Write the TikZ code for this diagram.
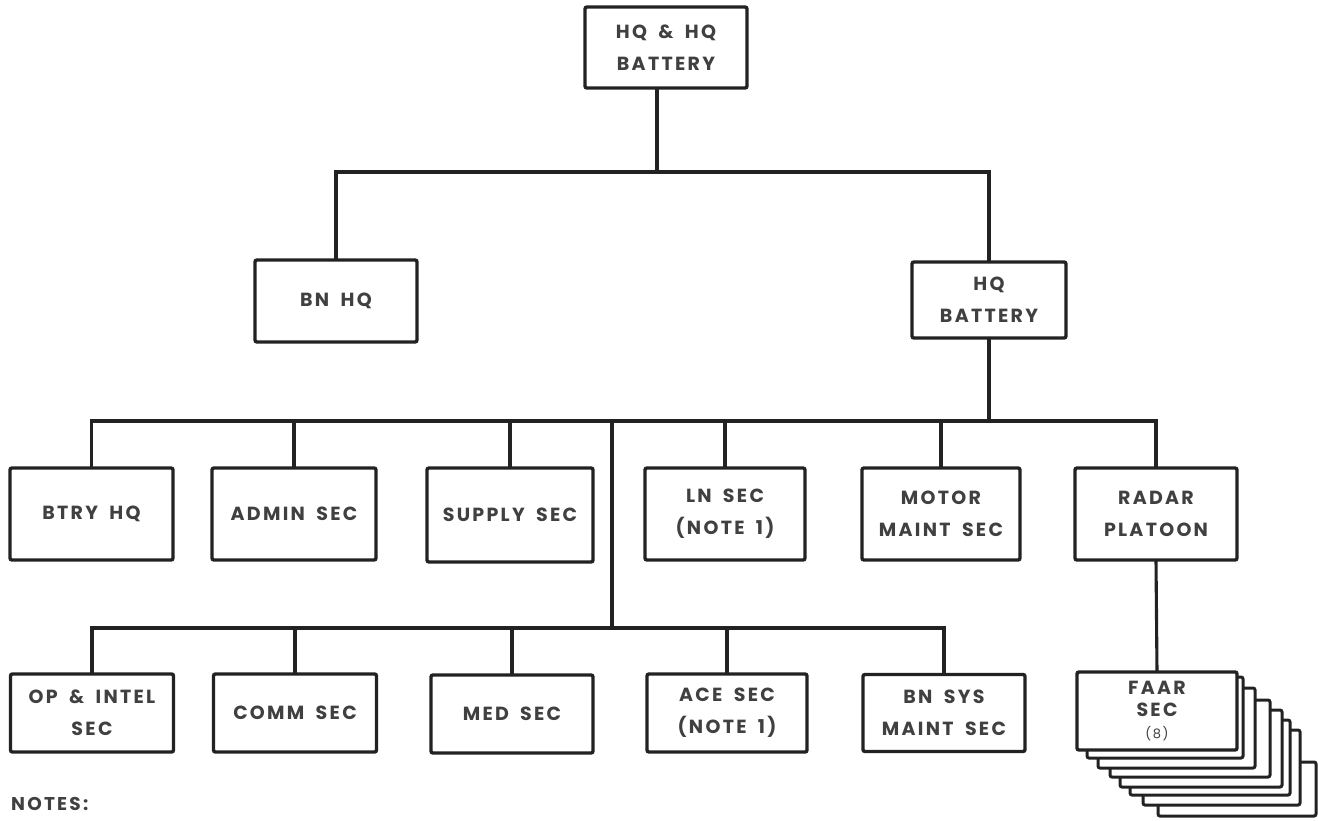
\documentclass[tikz,border=0pt]{standalone}
\usepackage{fontspec}
\newfontfamily\lblfont[LetterSpace=12,WordSpace=1.8]{Poppins}
\definecolor{ink}{HTML}{222222}
\definecolor{txt}{HTML}{404040}
\begin{document}
\begin{tikzpicture}[x=1pt,y=-1pt,
  box/.style={draw=ink, line width=3.4pt, rounded corners=2pt, fill=white,
    align=center, inner sep=0pt, outer sep=0pt, text=txt,
    font=\lblfont\bfseries\fontsize{19}{32}\selectfont},
  conn/.style={draw=ink, line width=3.1pt},
  stackbox/.style={draw=ink, line width=3pt, rounded corners=2pt, fill=white}
]
\fill[white] (0,0) rectangle (1318,820);
\useasboundingbox (0,0) rectangle (1318,820);

% level 0 and 1
\node[box, minimum width=162, minimum height=81] (top) at (666,47.5) {HQ \& HQ\\BATTERY};
\node[box, minimum width=162, minimum height=82] (bnhq) at (336,301) {BN HQ};
\node[box, minimum width=154, minimum height=76] (hqbty) at (989,300) {HQ\\BATTERY};

% level 2
\node[box, minimum width=163, minimum height=92] (btryhq) at (91.5,514) {BTRY HQ};
\node[box, minimum width=164, minimum height=92] (admin) at (294,514) {ADMIN SEC};
\node[box, minimum width=166, minimum height=94] (supply) at (510,515) {SUPPLY SEC};
\node[box, minimum width=160, minimum height=92] (ln) at (725,514) {LN SEC\\(NOTE 1)};
\node[box, minimum width=158, minimum height=92] (motor) at (941,514) {MOTOR\\MAINT SEC};
\node[box, minimum width=162, minimum height=92] (radar) at (1156,514) {RADAR\\PLATOON};

% level 3
\node[box, minimum width=163, minimum height=78] (op) at (92,713) {OP \& INTEL\\SEC};
\node[box, minimum width=163, minimum height=78] (comm) at (295,713) {COMM SEC};
\node[box, minimum width=162, minimum height=78] (med) at (512,714) {MED SEC};
\node[box, minimum width=160, minimum height=78] (ace) at (727,713) {ACE SEC\\(NOTE 1)};
\node[box, minimum width=162, minimum height=77] (bnsys) at (944,713) {BN SYS\\MAINT SEC};

% FAAR stack (8 sections)
\draw[stackbox] (1158,762) rectangle (1316,816);
\draw[stackbox] (1143,730) rectangle (1300,805);
\draw[stackbox] (1130,720) rectangle (1290,795);
\draw[stackbox] (1120,710) rectangle (1282,787);
\draw[stackbox] (1110,700) rectangle (1270,777);
\draw[stackbox] (1098,688) rectangle (1255,768);
\draw[stackbox] (1087,677) rectangle (1243,758);
\node[box, minimum width=160, minimum height=78, font=\lblfont\bfseries\fontsize{19}{22}\selectfont] (faar) at (1157,711) {FAAR\\SEC\\{\mdseries\fontsize{13}{13}\selectfont (8)}};

% connectors
\coordinate (s1) at (657,172);
\coordinate (s2) at (612,421);
\coordinate (s3) at (612,628);
\draw[conn] ([xshift=-9pt]top.south) -- (s1);
\draw[conn] (bnhq.north) |- (hqbty.north |- s1) -- (hqbty.north);
\draw[conn] (hqbty.south) -- (hqbty.south |- s2);
\draw[conn] (btryhq.north) |- (radar.north |- s2) -- (radar.north);
\foreach \n in {admin,supply,ln,motor} \draw[conn] (\n.north) -- (\n.north |- s2);
\draw[conn] (s2) -- (s3);
\draw[conn] (op.north) |- (bnsys.north |- s3) -- (bnsys.north);
\foreach \n in {comm,med,ace} \draw[conn] (\n.north) -- (\n.north |- s3);
\draw[conn] (radar.south) -- (faar.north);

\node[anchor=west, inner sep=0pt, text=txt, font=\lblfont\bfseries\fontsize{18.5}{18.5}\selectfont] (notes) at (11,804) {NOTES:};
\end{tikzpicture}
\end{document}
